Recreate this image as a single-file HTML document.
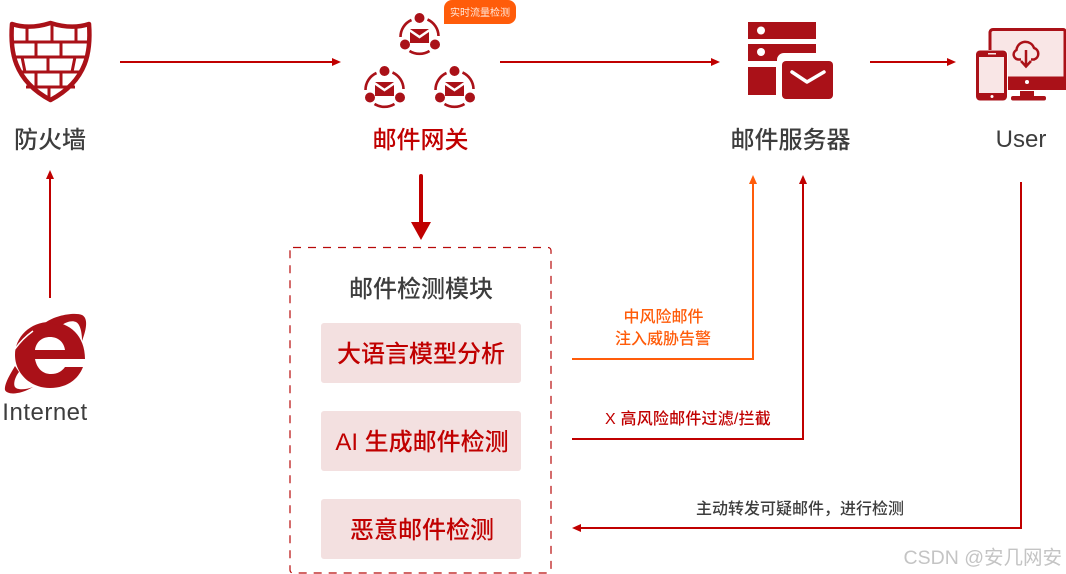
<!DOCTYPE html>
<html><head><meta charset="utf-8"><style>
html,body{margin:0;padding:0;background:#fff}
svg{display:block}
text{font-family:"Liberation Sans","Noto Sans CJK SC",sans-serif;font-weight:500}
</style></head><body>
<svg width="1066" height="574" viewBox="0 0 1066 574" xmlns="http://www.w3.org/2000/svg">
<defs>
<g id="gw">
<circle cx="0" cy="-17" r="5" fill="#aa1118"/>
<circle cx="-14.500" cy="9.500" r="5" fill="#aa1118"/>
<circle cx="15.500" cy="9.500" r="5" fill="#aa1118"/>
<g fill="none" stroke="#aa1118" stroke-width="2.600">
<path d="M-8 -15 A18.500 18.500 0 0 0 -19 2"/>
<path d="M8 -15.500 A18.500 18.500 0 0 1 19 1"/>
<path d="M-10 16 A19 19 0 0 0 10 16"/>
</g>
<path d="M-9.500 -6 H9.500 L0 0.500 Z" fill="#aa1118"/>
<path d="M-9.500 -3 L0 3.500 L9.500 -3 V8 H-9.500 Z" fill="#aa1118"/>
</g>
</defs>
<rect width="1066" height="574" fill="#fff"/>

<!-- Firewall -->
<g stroke="#aa1118" stroke-width="3" fill="none">
<path d="M13 42H88M15 57H86M19 72H82M26 87H75"/>
<path d="M27 26V42M52 24V42M76 26V42M36 42V57M61 42V57M22 57L25 72M48 57V72M75 57L72 72M36 72V87M61 72V87M49 87V99"/>
</g>
<path d="M12 24 C24 28 38 27 50.500 23 C63 27 77 28 89 24 C91 50 88 80 50.500 100 C13 80 10 50 12 24 Z" fill="none" stroke="#aa1118" stroke-width="4.500" stroke-linejoin="round"/>
<text x="50" y="148" font-size="24" fill="#3d3d3d" text-anchor="middle">防火墙</text>

<!-- Arrow firewall -> gateway -->
<path d="M120 62H333" stroke="#c00000" stroke-width="2" fill="none"/>
<path d="M332 58L341 62L332 66Z" fill="#c00000"/>

<!-- Gateway -->
<use href="#gw" x="419.500" y="35"/>
<use href="#gw" x="384.500" y="88"/>
<use href="#gw" x="454.500" y="88"/>
<path d="M444 8 A8 8 0 0 1 452 0 H508 A8 8 0 0 1 516 8 V16 A8 8 0 0 1 508 24 H444 Z" fill="#ff5c0a"/>
<text x="480" y="16" font-size="10" fill="#ffe9dc" text-anchor="middle" style="font-weight:400">实时流量检测</text>
<text x="420.500" y="148" font-size="24" fill="#c00000" text-anchor="middle">邮件网关</text>

<path d="M500 62H713" stroke="#c00000" stroke-width="2" fill="none"/>
<path d="M711 58L720 62L711 66Z" fill="#c00000"/>

<!-- Server -->
<rect x="748" y="22" width="68" height="17" fill="#aa1118"/>
<circle cx="761" cy="30.500" r="4" fill="#fff"/>
<path d="M748 44H816V53H784A7 7 0 0 0 777 60V61H748Z" fill="#aa1118"/>
<circle cx="761" cy="52" r="4" fill="#fff"/>
<rect x="748" y="67" width="28" height="28" fill="#aa1118"/>
<rect x="782" y="61" width="51" height="38" rx="4" fill="#aa1118"/>
<path d="M792 72L807 82L824 72" fill="none" stroke="#fff" stroke-width="3.500" stroke-linecap="round" stroke-linejoin="round"/>
<text x="790.500" y="148" font-size="24" fill="#3d3d3d" text-anchor="middle">邮件服务器</text>

<path d="M870 62H949" stroke="#c00000" stroke-width="2" fill="none"/>
<path d="M947 58L956 62L947 66Z" fill="#c00000"/>

<!-- Devices -->
<path d="M990 78V32A3 3 0 0 1 993 29.500H1063A2 2 0 0 1 1065 31V78Z" fill="#f9e6e6" stroke="#aa1118" stroke-width="3"/>
<rect x="988" y="78" width="78" height="12" fill="#aa1118"/>
<circle cx="1027" cy="82" r="2" fill="#fff"/>
<rect x="1020" y="91" width="14" height="6" fill="#aa1118"/>
<rect x="1011" y="96" width="35" height="4.500" rx="2" fill="#aa1118"/>
<rect x="975" y="50" width="33" height="51" rx="4" fill="#fff"/>
<rect x="976" y="50.500" width="31" height="50" rx="4" fill="#aa1118"/>
<rect x="979" y="57" width="25" height="36" fill="#f9e6e6"/>
<rect x="988" y="53" width="8" height="1.500" fill="#f9e6e6"/>
<circle cx="992" cy="96.500" r="1.500" fill="#fff"/>
<path d="M1021 59.500H1019A5 5 0 0 1 1016.500 50A9 9 0 0 1 1034 48A6 6 0 0 1 1034 59.500H1031" fill="none" stroke="#aa1118" stroke-width="2.500" stroke-linejoin="round"/>
<path d="M1026 50V66M1021 61L1026 66.500L1031 61" fill="none" stroke="#aa1118" stroke-width="2.500"/>
<text x="1021" y="147" font-size="24" fill="#3d3d3d" text-anchor="middle">User</text>

<!-- Internet up arrow -->
<path d="M50 298V177" stroke="#c00000" stroke-width="2" fill="none"/>
<path d="M46 179L50 170L54 179Z" fill="#c00000"/>

<!-- IE icon -->
<path fill-rule="evenodd" fill="#aa1118" d="M50 322 C70 322 85 336 85 359 H35 C37 369 43 374 51 374 C58 374 62 371 65 367 H83 C78 380 66 388 50 388 C30 388 15 373 15 355 C15 337 30 322 50 322 Z M35 350 H65 C64 342 58 337 50 337 C42 337 36 342 35 350 Z"/>
<path fill="#aa1118" d="M45 323 C55 315 75 312 82 315 C88 318 87 328 82 341 C82 332 80 324 76 322 C72 320 66 322 62 325 Z"/>
<path fill="#aa1118" d="M15 366 C9 376 4 385 5 390 C7 395 20 395 33 387 C25 390 17 390 15 387 C13 384 15 377 19 372 Z"/>
<path d="M15 349 C20 342 26 336 33 331" stroke="#fff" stroke-width="1.500" fill="none"/>
<text x="45" y="420" font-size="24" fill="#3d3d3d" text-anchor="middle" letter-spacing="0.500">Internet</text>

<!-- Thick arrow -->
<path d="M421 176V224" stroke="#c00000" stroke-width="4" stroke-linecap="round" fill="none"/>
<path d="M411 222H431L421 240Z" fill="#c00000"/>

<!-- Dashed box -->
<rect x="290" y="247.500" width="261" height="325.500" rx="3" fill="none" stroke="#b80a0a" stroke-width="1.200" stroke-dasharray="8 7"/>
<text x="421" y="297" font-size="24" fill="#3d3d3d" text-anchor="middle">邮件检测模块</text>

<rect x="321" y="323" width="200" height="60" rx="3" fill="#f3e0e0"/>
<text x="421" y="362" font-size="24" fill="#c00000" text-anchor="middle">大语言模型分析</text>
<rect x="321" y="411" width="200" height="60" rx="3" fill="#f3e0e0"/>
<text x="422" y="450" font-size="24" fill="#c00000" text-anchor="middle">AI 生成邮件检测</text>
<rect x="321" y="499" width="200" height="60" rx="3" fill="#f3e0e0"/>
<text x="422" y="538" font-size="24" fill="#c00000" text-anchor="middle">恶意邮件检测</text>

<!-- Orange connector -->
<path d="M572 359H753V182" stroke="#ff5c0a" stroke-width="2" fill="none"/>
<path d="M749 184L753 175L757 184Z" fill="#ff5c0a"/>
<text x="663.500" y="322" font-size="16" fill="#ff5c0a" text-anchor="middle">中风险邮件</text>
<text x="663" y="344" font-size="16" fill="#ff5c0a" text-anchor="middle">注入威胁告警</text>

<!-- Red connector -->
<path d="M572 439H803V182" stroke="#c00000" stroke-width="2" fill="none"/>
<path d="M799 184L803 175L807 184Z" fill="#c00000"/>
<text x="688" y="424" font-size="16" fill="#c00000" text-anchor="middle" letter-spacing="0.200">X 高风险邮件过滤/拦截</text>

<!-- User connector -->
<path d="M1021 182V528H578" stroke="#c00000" stroke-width="2" fill="none"/>
<path d="M581 524L572 528L581 532Z" fill="#c00000"/>
<text x="800" y="514" font-size="16" fill="#3d3d3d" text-anchor="middle">主动转发可疑邮件&#xFF0C;进行检测</text>

<text x="1062" y="564" font-size="19.500" fill="#c4c4c4" text-anchor="end" style="font-weight:400">CSDN @安几网安</text>
</svg>
</body></html>
